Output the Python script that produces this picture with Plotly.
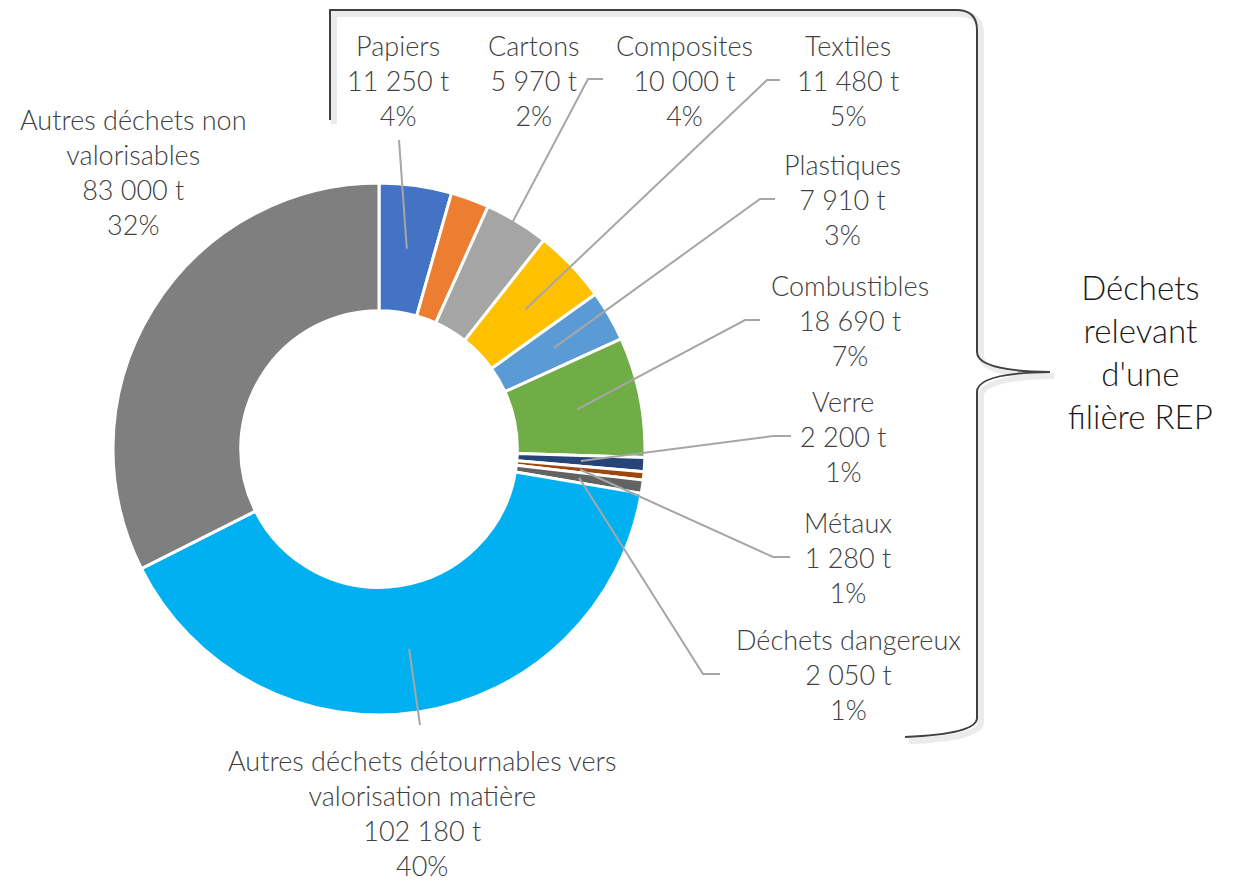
import math

import plotly.graph_objects as go

# Data (clockwise from 12 o'clock)
categories = [
    "Papiers", "Cartons", "Composites", "Textiles", "Plastiques", "Combustibles",
    "Verre", "Métaux", "Déchets dangereux",
    "Autres déchets détournables vers<br>valorisation matière",
    "Autres déchets non<br>valorisables",
]
tonnes = [11250, 5970, 10000, 11480, 7910, 18690, 2200, 1280, 2050, 102180, 83000]
percent_labels = ["4%", "2%", "4%", "5%", "3%", "7%", "1%", "1%", "1%", "40%", "32%"]
colors = [
    "#4472C4", "#ED7D31", "#A5A5A5", "#FFC000", "#5B9BD5", "#70AD47",
    "#264478", "#9E480E", "#636363", "#00B0F0", "#7F7F7F",
]
brace_label = "Déchets<br>relevant<br>d'une<br>filière REP"

W, H = 1246, 882
OFF = 8                          # the page body adds an 8 px margin
CX, CY, R_OUT = 379, 449, 266    # donut placement (page px)
HOLE = 0.52
R_MID = R_OUT * (1 + HOLE) / 2   # leader lines end mid-ring

TEXT_COLOR = "#404040"
LEADER_COLOR = "#A6A6A6"
FONT = "Lato"

# label placement (page px): centre x, centre y, leader tip, leader knee
label_pos = {
    "Papiers": (398, 80, (399, 140), None),
    "Cartons": (533, 80, None, None),
    "Composites": (684, 80, (603, 79), (588, 79)),
    "Textiles": (848, 80, (780, 80), (767, 80)),
    "Plastiques": (842, 199, (775, 199), (760, 199)),
    "Combustibles": (850, 320, (760, 320), (745, 320)),
    "Verre": (843, 436, (791, 436), (773, 436)),
    "Métaux": (848, 557, (790, 557), (773, 557)),
    "Déchets dangereux": (848, 674, (720, 674), (703, 674)),
    categories[9]: (422, 813, (420, 725), None),
    categories[10]: (133, 172, None, None),
}


def fmt_t(v):
    return f"{v:,}".replace(",", " ") + " t"


def slice_anchor(i):
    """Mid-ring point of slice i (clockwise from top), in page px."""
    total = sum(tonnes)
    frac = (sum(tonnes[:i]) + tonnes[i] / 2) / total
    a = 2 * math.pi * frac
    return CX + R_MID * math.sin(a), CY - R_MID * math.cos(a)


fig = go.Figure()

cx_fig, cy_fig = CX - OFF, CY - OFF
fig.add_trace(
    go.Pie(
        labels=[c.replace("<br>", " ") for c in categories],
        values=tonnes,
        marker=dict(colors=colors, line=dict(color="white", width=3)),
        hole=HOLE,
        sort=False,
        direction="clockwise",
        rotation=0,
        textinfo="none",
        hoverinfo="label+value+percent",
        showlegend=False,
        domain=dict(
            x=[(cx_fig - R_OUT) / W, (cx_fig + R_OUT) / W],
            y=[(H - cy_fig - R_OUT) / H, (H - cy_fig + R_OUT) / H],
        ),
    )
)

shapes = []
annotations = []
for i, name in enumerate(categories):
    lx, ly, tip, knee = label_pos[name]
    annotations.append(dict(
        x=lx, y=ly, xref="x", yref="y", showarrow=False,
        text=f"{name}<br>{fmt_t(tonnes[i])}<br>{percent_labels[i]}",
        font=dict(family=FONT, size=27, color=TEXT_COLOR, weight=300),
        xanchor="center", yanchor="middle", align="center",
    ))
    if tip is None:
        continue
    ax, ay = slice_anchor(i)
    pts = [tip] + ([knee] if knee else []) + [(ax, ay)]
    path = "M " + " L ".join(f"{x:.1f},{y:.1f}" for x, y in pts)
    shapes.append(dict(type="path", xref="x", yref="y", path=path,
                       line=dict(color=LEADER_COLOR, width=2)))

# curly brace grouping the REP streams (soft shadow first)
brace = ("M 330,120 L 330,10 L 958,10 Q 977,11 977,30 L 977,352 "
         "Q 977,371 1050,372 Q 977,373 977,392 L 977,718 "
         "Q 977,734 905,737")
shadow = ("M 334,124 L 334,14 L 962,14 Q 981,15 981,34 L 981,356 "
          "Q 981,375 1054,376 Q 981,377 981,396 L 981,722 "
          "Q 981,738 909,741")
shapes.append(dict(type="path", xref="x", yref="y", path=shadow,
                   line=dict(color="#EBEBEB", width=6), layer="below"))
shapes.append(dict(type="path", xref="x", yref="y", path=brace,
                   line=dict(color="#404040", width=2)))

annotations.append(dict(
    x=1140, y=351, xref="x", yref="y", showarrow=False, text=brace_label,
    font=dict(family=FONT, size=33, color="#1a1a1a", weight=300),
    xanchor="center", yanchor="middle", align="center",
))

fig.update_layout(
    width=W, height=H,
    margin=dict(l=0, r=0, t=0, b=0),
    paper_bgcolor="white", plot_bgcolor="rgba(0,0,0,0)",
    xaxis=dict(range=[OFF, W + OFF], visible=False, fixedrange=True),
    yaxis=dict(range=[H + OFF, OFF], visible=False, fixedrange=True),
    shapes=shapes,
    annotations=annotations,
)

fig.write_html("out.html")
